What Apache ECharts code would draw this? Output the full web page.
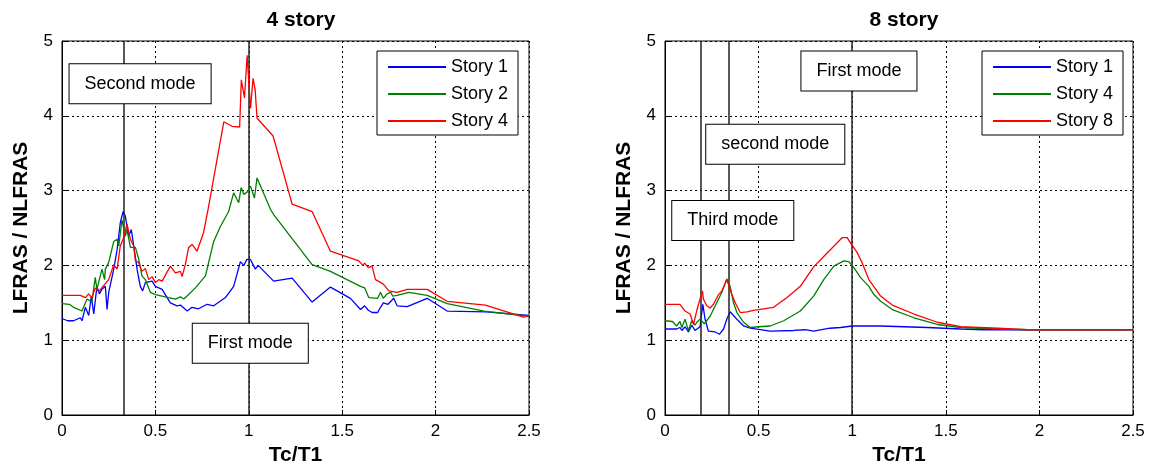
<!DOCTYPE html>
<html>
<head>
<meta charset="utf-8">
<script src="https://cdn.jsdelivr.net/npm/echarts@6/dist/echarts.min.js"></script>
<style>
  html, body { margin: 0; padding: 0; background: #fff; }
  #chart { width: 1151px; height: 471px; }
</style>
</head>
<body>
<div id="chart"></div>
<script>
// 4 story building: [Tc/T1, LFRAS/NLFRAS]
var story4_s1 = [[0,1.29],[0.03,1.26],[0.062,1.26],[0.08,1.28],[0.098,1.30],[0.107,1.26],[0.125,1.44],[0.143,1.33],[0.157,1.59],[0.17,1.35],[0.187,1.72],[0.2,1.62],[0.214,1.68],[0.232,1.72],[0.241,1.41],[0.25,1.64],[0.277,1.95],[0.295,2.21],[0.312,2.57],[0.327,2.72],[0.339,2.66],[0.357,2.39],[0.371,2.48],[0.384,2.26],[0.402,1.95],[0.419,1.72],[0.432,1.66],[0.446,1.77],[0.482,1.79],[0.5,1.72],[0.536,1.68],[0.58,1.50],[0.616,1.46],[0.634,1.47],[0.67,1.39],[0.696,1.44],[0.73,1.42],[0.777,1.48],[0.812,1.46],[0.875,1.57],[0.919,1.72],[0.955,2.05],[0.973,2.0],[0.99,2.08],[1.009,2.08],[1.035,1.95],[1.05,2.0],[1.133,1.79],[1.232,1.83],[1.339,1.51],[1.437,1.71],[1.544,1.56],[1.598,1.41],[1.62,1.46],[1.64,1.40],[1.66,1.37],[1.69,1.37],[1.705,1.44],[1.72,1.50],[1.745,1.48],[1.776,1.56],[1.794,1.46],[1.848,1.45],[1.955,1.56],[2.062,1.39],[2.27,1.38],[2.5,1.33]];
var story4_s2 = [[0,1.49],[0.04,1.48],[0.062,1.44],[0.107,1.39],[0.134,1.55],[0.16,1.51],[0.178,1.84],[0.187,1.68],[0.214,1.95],[0.228,1.81],[0.232,1.95],[0.25,2.04],[0.277,2.32],[0.295,2.35],[0.304,2.26],[0.321,2.61],[0.339,2.39],[0.348,2.48],[0.366,2.24],[0.393,2.24],[0.411,2.08],[0.428,1.86],[0.446,1.81],[0.473,1.64],[0.5,1.61],[0.536,1.59],[0.571,1.57],[0.607,1.55],[0.634,1.58],[0.652,1.55],[0.678,1.61],[0.714,1.70],[0.768,1.86],[0.812,2.32],[0.848,2.52],[0.892,2.72],[0.919,2.97],[0.937,2.88],[0.946,2.84],[0.959,3.04],[0.973,2.95],[0.991,2.98],[1.009,3.06],[1.03,2.9],[1.044,3.17],[1.116,2.75],[1.133,2.68],[1.339,2.01],[1.437,1.92],[1.598,1.72],[1.62,1.70],[1.642,1.57],[1.69,1.56],[1.705,1.64],[1.72,1.56],[1.74,1.62],[1.76,1.64],[1.77,1.59],[1.794,1.6],[1.857,1.64],[1.955,1.6],[2.062,1.49],[2.26,1.39],[2.5,1.32]];
var story4_s4 = [[0,1.60],[0.098,1.60],[0.125,1.57],[0.143,1.62],[0.16,1.57],[0.178,1.70],[0.196,1.65],[0.223,1.73],[0.25,1.81],[0.277,2.01],[0.295,1.95],[0.312,2.26],[0.327,2.35],[0.348,2.55],[0.366,2.35],[0.384,2.26],[0.393,2.06],[0.41,2.04],[0.428,1.92],[0.446,1.96],[0.464,1.81],[0.482,1.85],[0.5,1.77],[0.518,1.81],[0.536,1.79],[0.58,1.99],[0.607,1.90],[0.634,1.92],[0.643,1.85],[0.66,2.01],[0.678,2.24],[0.696,2.28],[0.723,2.19],[0.758,2.44],[0.785,2.79],[0.866,3.92],[0.91,3.86],[0.951,3.85],[0.96,4.48],[0.977,4.24],[0.991,4.81],[1.009,4.10],[1.023,4.50],[1.034,4.35],[1.044,3.97],[1.13,3.73],[1.232,2.82],[1.339,2.72],[1.437,2.19],[1.589,2.06],[1.61,2.0],[1.62,2.03],[1.64,1.97],[1.66,1.99],[1.678,1.81],[1.70,1.78],[1.72,1.75],[1.75,1.66],[1.794,1.64],[1.848,1.68],[1.955,1.68],[2.062,1.52],[2.267,1.47],[2.47,1.31],[2.5,1.33]];

// 8 story building
var story8_s1 = [[0,1.15],[0.03,1.15],[0.062,1.15],[0.08,1.17],[0.09,1.13],[0.107,1.18],[0.125,1.11],[0.143,1.2],[0.161,1.13],[0.187,1.18],[0.202,1.48],[0.214,1.28],[0.232,1.12],[0.268,1.11],[0.291,1.08],[0.313,1.15],[0.33,1.28],[0.348,1.38],[0.384,1.28],[0.42,1.19],[0.455,1.16],[0.562,1.12],[0.687,1.13],[0.75,1.14],[0.794,1.12],[0.88,1.16],[0.937,1.17],[1.0,1.19],[1.152,1.19],[1.40,1.17],[1.58,1.15],[1.7,1.14],[2.5,1.14]];
var story8_s4 = [[0,1.26],[0.04,1.25],[0.062,1.19],[0.08,1.25],[0.09,1.17],[0.107,1.28],[0.125,1.13],[0.143,1.26],[0.16,1.2],[0.17,1.24],[0.18,1.22],[0.187,1.28],[0.21,1.22],[0.241,1.32],[0.286,1.55],[0.304,1.64],[0.33,1.82],[0.348,1.72],[0.366,1.50],[0.384,1.37],[0.42,1.24],[0.455,1.17],[0.5,1.18],[0.562,1.19],[0.634,1.26],[0.723,1.39],[0.794,1.59],[0.848,1.81],[0.902,1.99],[0.955,2.06],[0.982,2.05],[1.009,1.97],[1.044,1.84],[1.089,1.72],[1.116,1.61],[1.152,1.52],[1.214,1.41],[1.33,1.30],[1.455,1.21],[1.58,1.17],[1.78,1.15],[1.94,1.14],[2.5,1.14]];
var story8_s8 = [[0,1.48],[0.08,1.48],[0.107,1.39],[0.134,1.35],[0.152,1.21],[0.17,1.40],[0.187,1.55],[0.2,1.66],[0.205,1.55],[0.223,1.46],[0.241,1.43],[0.259,1.48],[0.286,1.61],[0.304,1.66],[0.33,1.81],[0.357,1.61],[0.375,1.50],[0.402,1.37],[0.438,1.38],[0.473,1.40],[0.5,1.41],[0.58,1.44],[0.652,1.57],[0.723,1.72],[0.794,1.98],[0.848,2.12],[0.946,2.37],[0.973,2.37],[0.991,2.30],[1.027,2.17],[1.054,2.03],[1.089,1.81],[1.152,1.59],[1.214,1.47],[1.33,1.35],[1.455,1.24],[1.58,1.18],[1.78,1.16],[1.937,1.14],[2.5,1.14]];

// period ratios of the modes (vertical lines)
var modes4 = [0.333, 1];
var modes8 = [0.191, 0.344, 1];

// annotation boxes, centre in data units
var notes4 = [
  { name: 'Second mode', coord: [0.418, 4.43] },
  { name: 'First mode', coord: [1.008, 0.96] }
];
var notes8 = [
  { name: 'First mode', coord: [1.036, 4.6] },
  { name: 'second mode', coord: [0.589, 3.62] },
  { name: 'Third mode', coord: [0.362, 2.6] }
];

var titles = ['4 story', '8 story'];
var names4 = ['Story 1', 'Story 2', 'Story 4'];
var names8 = ['Story 1', 'Story 4', 'Story 8'];
var colors = ['#0000ff', '#008000', '#ff0000'];

var FONT = 'Liberation Sans, Arial, sans-serif';

var grids = [
  { left: 62, top: 41, width: 467, height: 375 },
  { left: 665, top: 41, width: 468, height: 375 }
];

function makeX (idx) {
  return {
    gridIndex: idx,
    type: 'value',
    min: 0,
    max: 2.5,
    interval: 0.5,
    name: 'Tc/T1',
    nameLocation: 'middle',
    nameGap: 30,
    nameTextStyle: { fontFamily: FONT, fontSize: 21, fontWeight: 'bold', color: '#000' },
    axisLine: { lineStyle: { color: '#000', width: 1 } },
    axisTick: { inside: true, length: 5, lineStyle: { color: '#000' } },
    axisLabel: { fontFamily: FONT, fontSize: 17, color: '#000', margin: 8 },
    splitLine: { show: true, lineStyle: { color: '#000', type: [2, 3], width: 1 } }
  }
}

function makeY (idx) {
  return {
    gridIndex: idx,
    type: 'value',
    min: 0,
    max: 5,
    interval: 1,
    name: 'LFRAS / NLFRAS',
    nameLocation: 'middle',
    nameGap: 30,
    nameTextStyle: { fontFamily: FONT, fontSize: 21, fontWeight: 'bold', color: '#000' },
    axisLine: { show: true, lineStyle: { color: '#000', width: 1 } },
    axisTick: { show: true, inside: true, length: 5, lineStyle: { color: '#000' } },
    axisLabel: { fontFamily: FONT, fontSize: 17, color: '#000', margin: 9 },
    splitLine: { show: true, lineStyle: { color: '#000', type: [2, 3], width: 1 } }
  }
}

function modeLines (list) {
  return {
    silent: true,
    symbol: 'none',
    z: 3,
    label: { show: false },
    lineStyle: { color: '#222', type: 'solid', width: 1.5 },
    data: list.map(function (v) { return { xAxis: v } })
  }
}

function noteBoxes (list) {
  return {
    silent: true,
    z: 6,
    symbol: 'rect',
    symbolSize: 1,
    itemStyle: { color: 'rgba(0,0,0,0)' },
    label: {
      show: true,
      position: 'inside',
      formatter: '{b}',
      fontFamily: FONT,
      fontSize: 18,
      color: '#000',
      backgroundColor: '#fff',
      borderColor: '#000',
      borderWidth: 1,
      padding: [11, 15, 10, 15]
    },
    data: list
  }
}

// series names carry a chart prefix ("4|Story 1") so the two legends stay apart
function makeSeries (idx, prefix, names, datas, modes, notes) {
  var out = []
  for (var i = 0; i < datas.length; i++) {
    var s = {
      name: prefix + '|' + names[i],
      type: 'line',
      xAxisIndex: idx,
      yAxisIndex: idx,
      data: datas[i],
      symbol: 'none',
      color: colors[i],
      lineStyle: { width: 1.3, color: colors[i] },
      z: 2 + i
    }
    if (i === 0) s.markLine = modeLines(modes)
    if (i === datas.length - 1) s.markPoint = noteBoxes(notes)
    out.push(s)
  }
  return out
}

function makeLegend (prefix, names, left) {
  return {
    data: names.map(function (n) { return prefix + '|' + n }),
    formatter: function (name) { return name.split('|')[1] },
    orient: 'vertical',
    left: left,
    top: 51,
    icon: 'rect',
    itemWidth: 58,
    itemHeight: 2,
    itemGap: 9,
    padding: [7, 10, 5, 11],
    backgroundColor: '#fff',
    borderColor: '#000',
    borderWidth: 1,
    textStyle: { fontFamily: FONT, fontSize: 18, color: '#000' },
    selectedMode: false
  }
}

var myChart = echarts.init(document.getElementById('chart'), null, { renderer: 'canvas' })

var option = {
  backgroundColor: '#fff',
  animation: false,
  title: [
    { text: titles[0], left: 296, top: 5, textAlign: 'center', textStyle: { fontFamily: FONT, fontSize: 21, fontWeight: 'bold', color: '#000' } },
    { text: titles[1], left: 899, top: 5, textAlign: 'center', textStyle: { fontFamily: FONT, fontSize: 21, fontWeight: 'bold', color: '#000' } }
  ],
  grid: grids.map(function (g) {
    return Object.assign({ show: true, borderColor: '#000', borderWidth: 1, backgroundColor: '#fff' }, g)
  }),
  legend: [makeLegend('4', names4, 377), makeLegend('8', names8, 982)],
  xAxis: [makeX(0), makeX(1)],
  yAxis: [makeY(0), makeY(1)],
  series: makeSeries(0, '4', names4, [story4_s1, story4_s2, story4_s4], modes4, notes4)
    .concat(makeSeries(1, '8', names8, [story8_s1, story8_s4, story8_s8], modes8, notes8))
}

myChart.setOption(option)
</script>
</body>
</html>
